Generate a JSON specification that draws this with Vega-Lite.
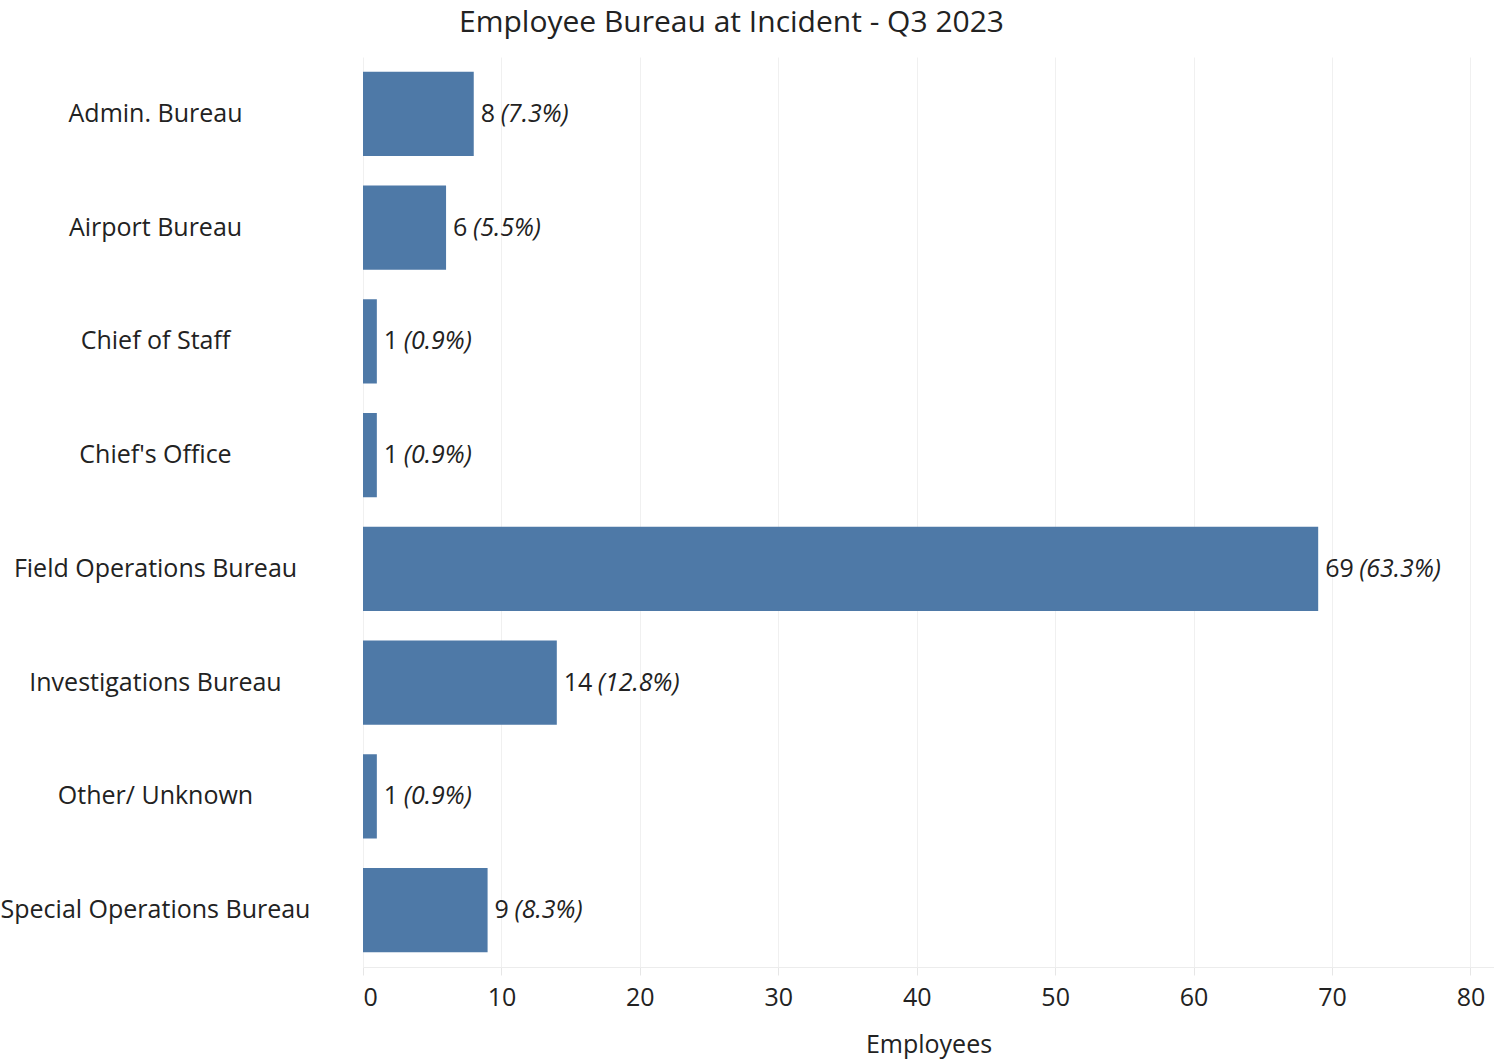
{
  "$schema": "https://vega.github.io/schema/vega-lite/v6.json",
  "autosize": "none",
  "width": 1131,
  "height": 910,
  "padding": {"left": 363, "top": 57, "right": 0, "bottom": 94},
  "background": "white",
  "config": {
    "font": "Open Sans",
    "view": {"stroke": null}
  },
  "title": {
    "text": "Employee Bureau at Incident - Q3 2023",
    "fontSize": 30,
    "fontWeight": "normal",
    "color": "#222",
    "anchor": "middle",
    "frame": "group",
    "dx": -197,
    "offset": 19
  },
  "data": {
    "values": [
      {"bureau": "Admin. Bureau", "employees": 8, "pct": "(7.3%)"},
      {"bureau": "Airport Bureau", "employees": 6, "pct": "(5.5%)"},
      {"bureau": "Chief of Staff", "employees": 1, "pct": "(0.9%)"},
      {"bureau": "Chief's Office", "employees": 1, "pct": "(0.9%)"},
      {"bureau": "Field Operations Bureau", "employees": 69, "pct": "(63.3%)"},
      {"bureau": "Investigations Bureau", "employees": 14, "pct": "(12.8%)"},
      {"bureau": "Other/ Unknown", "employees": 1, "pct": "(0.9%)"},
      {"bureau": "Special Operations Bureau", "employees": 9, "pct": "(8.3%)"}
    ]
  },
  "encoding": {
    "y": {
      "field": "bureau",
      "type": "nominal",
      "sort": null,
      "scale": {"paddingInner": 0.26, "paddingOuter": 0.13},
      "axis": {
        "title": null,
        "domain": false,
        "ticks": false,
        "labelAlign": "center",
        "labelPadding": 208,
        "labelFontSize": 25,
        "labelColor": "#222",
        "labelLimit": 400
      }
    },
    "x": {
      "field": "employees",
      "type": "quantitative",
      "scale": {"domain": [0, 81.7], "nice": false},
      "axis": {
        "title": "Employees",
        "titleFontSize": 25,
        "titleFontWeight": "normal",
        "titleColor": "#222",
        "titlePadding": 22,
        "values": [0, 10, 20, 30, 40, 50, 60, 70, 80],
        "labelFontSize": 25,
        "labelColor": "#222",
        "labelPadding": 10,
        "domainColor": "#ececec",
        "tickColor": "#e6e6e6",
        "tickSize": 8,
        "gridColor": "#f0f0f0",
        "grid": true
      }
    }
  },
  "layer": [
    {"mark": {"type": "bar", "color": "#4e79a7"}},
    {
      "mark": {"type": "text", "align": "left", "dx": 7, "fontSize": 25, "color": "#222"},
      "encoding": {"text": {"field": "employees", "type": "quantitative"}}
    },
    {
      "transform": [{"filter": "datum.employees < 10"}],
      "mark": {"type": "text", "align": "left", "dx": 27, "fontSize": 25, "fontStyle": "italic", "color": "#222"},
      "encoding": {"text": {"field": "pct", "type": "nominal"}}
    },
    {
      "transform": [{"filter": "datum.employees >= 10"}],
      "mark": {"type": "text", "align": "left", "dx": 41, "fontSize": 25, "fontStyle": "italic", "color": "#222"},
      "encoding": {"text": {"field": "pct", "type": "nominal"}}
    }
  ]
}
